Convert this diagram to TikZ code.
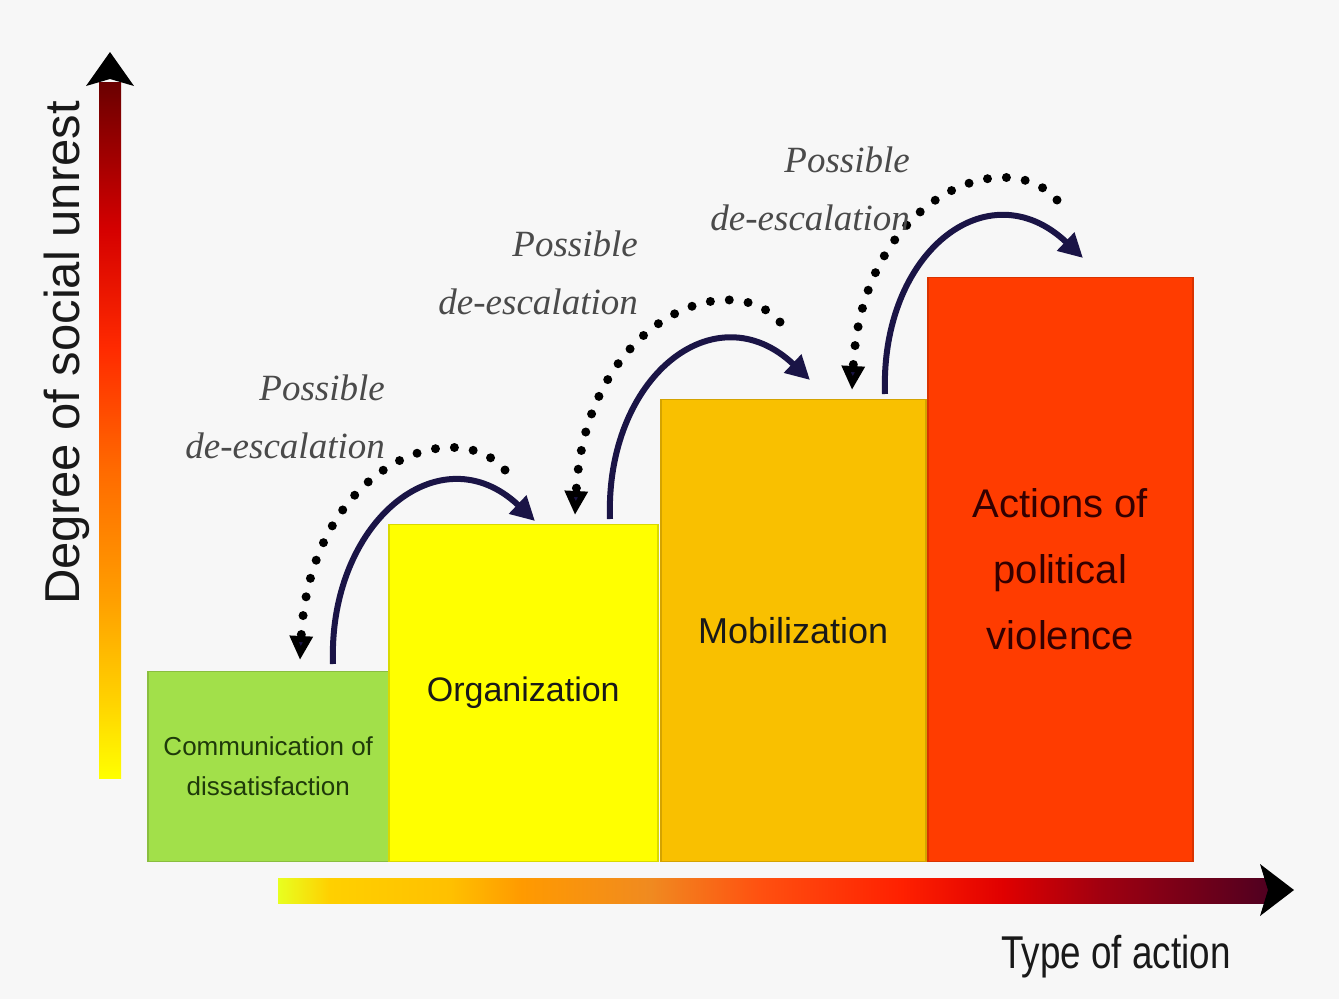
\documentclass[tikz,border=0pt]{standalone}
\usepackage{fontspec}
\setmainfont{Liberation Sans}
\newfontfamily\labelserif{Liberation Serif}
\newfontfamily\narrowsans[FakeStretch=0.8]{Liberation Sans}
\usetikzlibrary{arrows.meta}

\definecolor{bg}{HTML}{F7F7F7}
\definecolor{boxgreen}{HTML}{A2E04A}
\definecolor{boxyellow}{HTML}{FFFF00}
\definecolor{boxgold}{HTML}{F9C000}
\definecolor{boxred}{HTML}{FF3C00}
\definecolor{navy}{HTML}{1A1446}
\definecolor{greytext}{HTML}{4A4A4A}
\definecolor{darkgreen}{HTML}{1F3A0A}

% vertical axis colours, bottom to top
\definecolor{v0}{HTML}{FFFF00}
\definecolor{v1}{HTML}{FFD200}
\definecolor{v2}{HTML}{FF9F00}
\definecolor{v3}{HTML}{FF6A00}
\definecolor{v4}{HTML}{FF2A00}
\definecolor{v5}{HTML}{D40000}
\definecolor{v6}{HTML}{8B0000}
\definecolor{v7}{HTML}{6A0000}
% horizontal axis colours, left to right
\definecolor{h0}{HTML}{E8FF20}
\definecolor{h1}{HTML}{FFD000}
\definecolor{h2}{HTML}{FFC000}
\definecolor{h3}{HTML}{FF9A00}
\definecolor{h4}{HTML}{F08A20}
\definecolor{h5}{HTML}{FF5010}
\definecolor{h6}{HTML}{FF2000}
\definecolor{h7}{HTML}{E00000}
\definecolor{h8}{HTML}{A00010}
\definecolor{h9}{HTML}{500020}

\pgfdeclareverticalshading{vgrad}{100bp}{color(0bp)=(v0); color(25bp)=(v0); color(30.6bp)=(v1); color(37.8bp)=(v2); color(47.2bp)=(v3); color(55.9bp)=(v4); color(64.5bp)=(v5); color(71.8bp)=(v6); color(75bp)=(v7); color(100bp)=(v7)}
\pgfdeclarehorizontalshading{hgrad}{100bp}{color(0bp)=(h0); color(25bp)=(h0); color(27.6bp)=(h1); color(33.7bp)=(h2); color(37.3bp)=(h3); color(43.8bp)=(h4); color(49.4bp)=(h5); color(56.5bp)=(h6); color(61.6bp)=(h7); color(66.6bp)=(h8); color(75bp)=(h9); color(100bp)=(h9)}

\tikzset{
  stage/.style={draw=#1!85!black, line width=1.5pt, fill=#1, anchor=south west,
    inner sep=0pt, align=center, text=black!90},
  escal/.style={draw=navy, line width=6pt, -{Triangle[length=24pt,width=24pt]}},
  deesc/.style={draw=black, line width=9pt, line cap=round, dash pattern=on 0pt off 19pt,
    -{Triangle[length=24pt,width=22pt,fill=navy]}},
  possible/.style={font=\labelserif\itshape\fontsize{37}{58}\selectfont, text=greytext,
    align=right, anchor=east, inner sep=0pt},
}

\begin{document}
\begin{tikzpicture}[x=1pt,y=-1pt]
\useasboundingbox (0,0) rectangle (1339,999);
\fill[bg] (0,0) rectangle (1339,999);

% axes
\shade[shading=vgrad] (99,778) rectangle (121,82);
\fill[black] (110,52) -- (134,86) -- (110,79) -- (86,86) -- cycle;
\shade[shading=hgrad] (278,878) rectangle (1268,903);
\fill[black] (1294,890) -- (1260,864) -- (1268,890) -- (1260,916) -- cycle;

\node[rotate=90, font=\fontsize{49}{49}\selectfont, text=black!90] (ylab) at (67,353) {Degree of social unrest};
\node[font=\narrowsans\fontsize{46}{46}\selectfont, text=black!90] (xlab) at (1116,957) {Type of action};

% stages
\node[stage=boxgreen, minimum width=241pt, minimum height=190pt,
      font=\fontsize{26}{40}\selectfont, text=darkgreen] (comm) at (147,862)
      {Communication of\\dissatisfaction};
\node[stage=boxyellow, minimum width=269pt, minimum height=337pt,
      font=\fontsize{34}{40}\selectfont] (org) at (388,862) {Organization};
\node[stage=boxgold, minimum width=265pt, minimum height=462pt,
      font=\fontsize{36}{40}\selectfont] (mob) at (660,862) {Mobilization};
\node[stage=boxred, minimum width=265pt, minimum height=584pt,
      font=\fontsize{40}{66}\selectfont, text=black!80!red] (act) at (927,862)
      {Actions of\\political\\violence};

% arrow end points
\coordinate (s1) at (333,664);  \coordinate (t1) at (535,521);
\coordinate (d1) at (505,470);  \coordinate (e1) at (300,660);
\coordinate (s2) at (610,519);  \coordinate (t2) at (810,380);
\coordinate (d2) at (780,322);  \coordinate (e2) at (575,515);
\coordinate (s3) at (885,394);  \coordinate (t3) at (1083,258);
\coordinate (d3) at (1057,200); \coordinate (e3) at (852,390);

\foreach \i in {1,2,3}{
  \draw[escal] (s\i) .. controls +(-5,-142) and +(-95,-90) .. (t\i);
  \draw[deesc] (d\i) .. controls +(-50,-58) and +(10,-195) .. (e\i);
}

% labels
\node[possible] (p1) at (385,417) {Possible\\de-escalation};
\node[possible] (p2) at (638,273) {Possible\\de-escalation};
\node[possible] (p3) at (910,189) {Possible\\de-escalation};
\end{tikzpicture}
\end{document}
